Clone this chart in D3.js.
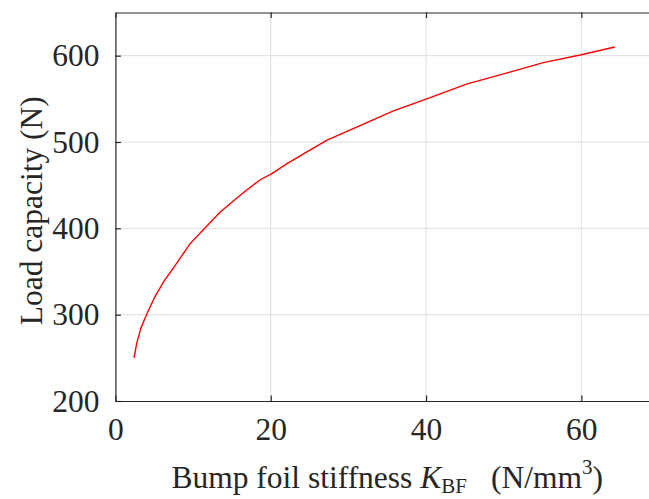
<!DOCTYPE html>
<html>
<head>
<meta charset="utf-8">
<script src="https://cdn.jsdelivr.net/npm/d3@7"></script>
<style>
  body { margin: 0; background: #fff; }
  text { font-family: "Liberation Serif", "Times New Roman", serif; fill: #262626; }
</style>
</head>
<body>
<div id="chart"></div>
<script>
// stiffness K_BF (N/mm^3) and load capacity (N)
const stiffness = [2.4, 2.75, 3.3, 4.0, 5.1, 6.2, 7.7, 9.6, 11.5, 13.5, 16.3, 18.6, 20.1, 22.1, 24.0, 27.2, 31.5, 35.8, 40.1, 45.2, 50.8, 55.1, 60.0, 64.3];
const load      = [250, 267, 285, 300, 321, 338, 357, 382, 400, 419, 440, 456, 463, 475, 485, 502, 519, 536, 550, 567, 581, 592, 601, 610];
const xTicks = [0, 20, 40, 60];
const yTicks = [200, 300, 400, 500, 600];

const width = 649, height = 499;
const margin = {left: 115.4, top: 12.5, right: 659, bottom: 401};
const axisColor = "#262626";
const fontSize = "31.5px";

const svg = d3.select("#chart").append("svg")
    .attr("width", width)
    .attr("height", height);

const x = d3.scaleLinear()
    .domain([0, 70])
    .range([margin.left, margin.right]);

const y = d3.scaleLinear()
    .domain([200, 650])
    .range([margin.bottom, margin.top]);

// grid
const grid = svg.append("g");
grid.selectAll(".vgrid")
    .data(xTicks.filter(d => d > 0))
    .enter().append("line")
    .attr("x1", d => x(d)).attr("x2", d => x(d))
    .attr("y1", margin.top).attr("y2", margin.bottom)
    .attr("stroke", "#dedede").attr("stroke-width", 1);
grid.selectAll(".hgrid")
    .data(yTicks.filter(d => d > 200))
    .enter().append("line")
    .attr("y1", d => y(d)).attr("y2", d => y(d))
    .attr("x1", margin.left).attr("x2", margin.right)
    .attr("stroke", "#dedede").attr("stroke-width", 1);

// curve
const line = d3.line()
    .x((d, i) => x(stiffness[i]))
    .y(d => y(d));

svg.append("path")
    .datum(load)
    .attr("d", line)
    .attr("fill", "none")
    .attr("stroke", "#ff0000")
    .attr("stroke-width", 1.4);

// axes (box with inward ticks)
const tick = 5.5;
svg.append("g")
    .attr("transform", `translate(0,${margin.bottom})`)
    .call(d3.axisBottom(x).tickValues(xTicks).tickSizeInner(-tick).tickSizeOuter(0).tickPadding(17))
    .call(g => g.selectAll("text").attr("font-size", fontSize).attr("fill", axisColor).attr("dy", "0.71em"));
svg.append("g")
    .attr("transform", `translate(0,${margin.top})`)
    .call(d3.axisTop(x).tickValues(xTicks).tickSizeInner(-tick).tickSizeOuter(0).tickFormat(""));
svg.append("g")
    .attr("transform", `translate(${margin.left},0)`)
    .call(d3.axisLeft(y).tickValues(yTicks).tickSizeInner(-tick).tickSizeOuter(0).tickPadding(16))
    .call(g => g.selectAll("text").attr("font-size", fontSize).attr("fill", axisColor));
svg.append("g")
    .attr("transform", `translate(${margin.right},0)`)
    .call(d3.axisRight(y).tickValues(yTicks).tickSizeInner(-tick).tickSizeOuter(0).tickFormat(""));

svg.selectAll(".domain").attr("stroke", axisColor).attr("stroke-width", 1.2);
svg.selectAll(".tick line").attr("stroke", axisColor).attr("stroke-width", 1.2);
svg.selectAll(".tick text").attr("font-family", "Liberation Serif, serif");

// axis labels
const xlab = svg.append("text")
    .attr("x", (margin.left + margin.right) / 2)
    .attr("y", 488)
    .attr("text-anchor", "middle")
    .attr("font-size", fontSize);
xlab.append("tspan").text("Bump foil stiffness ");
xlab.append("tspan").attr("font-style", "italic").text("K");
xlab.append("tspan").attr("font-size", "21px").attr("dy", 5).text("BF");
xlab.append("tspan").attr("dy", -5).attr("dx", 24).text("(N/mm");
xlab.append("tspan").attr("font-size", "21px").attr("dy", -14).text("3");
xlab.append("tspan").attr("dy", 14).text(")");

svg.append("text")
    .attr("transform", `translate(42,${(margin.top + margin.bottom) / 2 + 4}) rotate(-90)`)
    .attr("text-anchor", "middle")
    .attr("font-size", fontSize)
    .text("Load capacity (N)");
</script>
</body>
</html>
